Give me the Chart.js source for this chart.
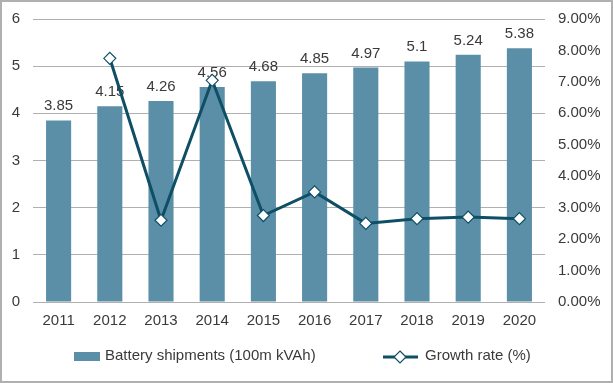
<!DOCTYPE html>
<html><head><meta charset="utf-8">
<script src="https://cdn.jsdelivr.net/npm/chart.js@4"></script>
<style>html,body{margin:0;padding:0;background:#fff}#wrap{position:relative;width:613px;height:383px}</style>
</head><body><div id="wrap"><canvas id="c"></canvas></div>
<script>
const categories = ['2011','2012','2013','2014','2015','2016','2017','2018','2019','2020'];
const shipments = [3.85, 4.15, 4.26, 4.56, 4.68, 4.85, 4.97, 5.1, 5.24, 5.38];
const growthRate = [null, 7.75, 2.6, 7.05, 2.75, 3.5, 2.5, 2.65, 2.7, 2.65];
const seriesNames = ['Battery shipments (100m kVAh)', 'Growth rate (%)'];

const barColor = '#5b8fa8';
const lineColor = '#0f4f66';
const textColor = '#3a3a3a';
const FONT = '"Liberation Sans", Arial, sans-serif';

const extras = {
  id: 'extras',
  afterDatasetDraw(chart, args) {
    if (args.index !== 1) return;
    const ctx = chart.ctx;
    const meta = args.meta;
    ctx.save();
    ctx.font = '15px ' + FONT;
    ctx.fillStyle = textColor;
    ctx.textAlign = 'center';
    ctx.textBaseline = 'alphabetic';
    meta.data.forEach((el, i) => {
      ctx.fillText(String(shipments[i]), el.x, el.y - 10);
    });
    ctx.restore();
  },
  afterDraw(chart) {
    const ctx = chart.ctx;
    ctx.save();
    ctx.font = '15px ' + FONT;
    ctx.fillStyle = barColor;
    ctx.fillRect(74, 352, 26, 9);
    ctx.fillStyle = textColor;
    ctx.textAlign = 'left';
    ctx.textBaseline = 'middle';
    ctx.fillText(seriesNames[0], 105, 356);
    ctx.strokeStyle = lineColor;
    ctx.lineWidth = 3;
    ctx.beginPath(); ctx.moveTo(383, 357); ctx.lineTo(418, 357); ctx.stroke();
    ctx.fillStyle = '#fff'; ctx.lineWidth = 1.2;
    ctx.beginPath(); ctx.moveTo(400, 351); ctx.lineTo(406, 357); ctx.lineTo(400, 363); ctx.lineTo(394, 357); ctx.closePath();
    ctx.fill(); ctx.stroke();
    ctx.fillStyle = textColor;
    ctx.fillText(seriesNames[1], 425, 356);
    ctx.strokeStyle = '#b0b0b0';
    ctx.lineWidth = 2;
    ctx.strokeRect(1, 1, 611, 381);
    ctx.restore();
  }
};

function fitY(width) {
  return function (s) { s.width = width; s.paddingTop = 0; s.paddingBottom = 0; };
}

new Chart(document.getElementById('c'), {
  data: {
    labels: categories,
    datasets: [
      { type: 'line', label: seriesNames[1], data: growthRate, yAxisID: 'y1', order: 0,
        borderColor: lineColor, borderWidth: 3, backgroundColor: '#fff',
        pointStyle: 'rectRot', pointRadius: 6, pointBackgroundColor: '#fff',
        pointBorderColor: lineColor, pointBorderWidth: 1.2, tension: 0, spanGaps: false },
      { type: 'bar', label: seriesNames[0], data: shipments, yAxisID: 'y', order: 1,
        backgroundColor: barColor, barPercentage: 0.49, categoryPercentage: 1 }
    ]
  },
  options: {
    responsive: true, maintainAspectRatio: false, animation: false,
    layout: { padding: { top: 19, left: 0, right: 0, bottom: 0 } },
    plugins: { legend: { display: false }, tooltip: { enabled: false } },
    scales: {
      x: {
        grid: { display: false, drawTicks: false },
        border: { display: false },
        ticks: { color: textColor, font: { size: 15, family: FONT }, padding: 10, maxRotation: 0 },
        afterFit(s) { s.height = 81; s.paddingLeft = 0; s.paddingRight = 0; }
      },
      y: {
        position: 'left', min: 0, max: 6,
        ticks: { stepSize: 1, color: textColor, font: { size: 15, family: FONT }, padding: 13 },
        grid: { color: '#b0b0b0', lineWidth: 1, drawTicks: false },
        border: { display: false },
        afterFit: fitY(33)
      },
      y1: {
        position: 'right', min: 0, max: 9,
        ticks: { stepSize: 1, color: textColor, font: { size: 15, family: FONT }, padding: 13,
          callback: v => v.toFixed(2) + '%' },
        grid: { display: false, drawTicks: false },
        border: { display: false },
        afterFit: fitY(68)
      }
    }
  },
  plugins: [extras]
});
</script></body></html>
